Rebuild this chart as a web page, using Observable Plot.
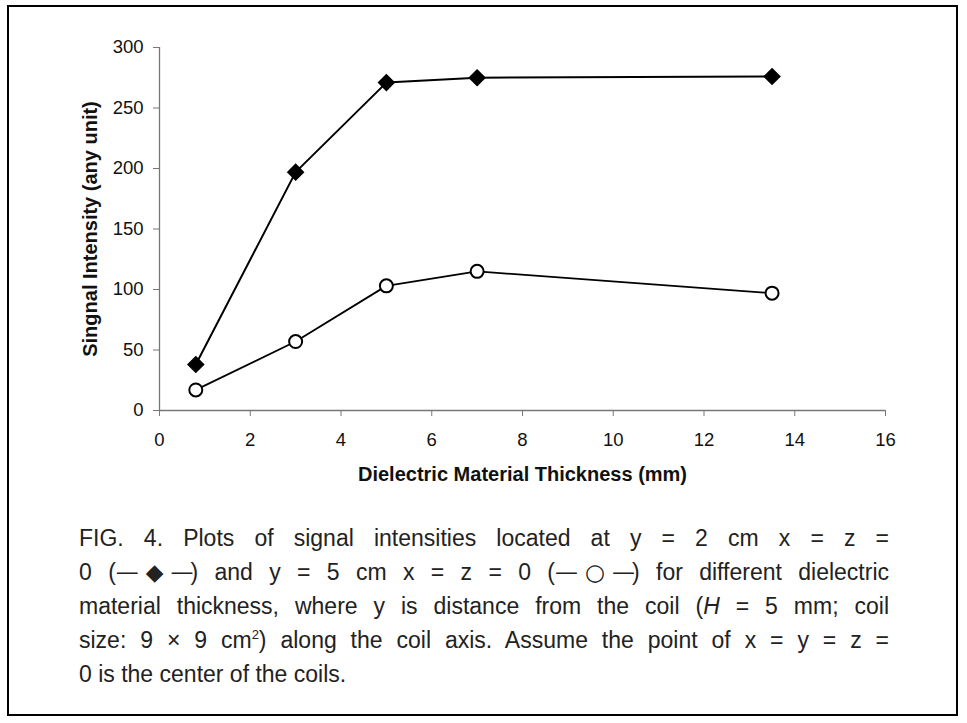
<!DOCTYPE html>
<html>
<head>
<meta charset="utf-8">
<script src="https://cdn.jsdelivr.net/npm/d3@7"></script>
<script src="https://cdn.jsdelivr.net/npm/@observablehq/plot@0.6"></script>
<style>
  html, body { margin: 0; padding: 0; background: #fff; }
  #page { position: relative; width: 967px; height: 723px; overflow: hidden; }
  #frame { position: absolute; left: 7px; top: 5px; width: 947px; height: 707px; border: 2.5px solid #000; box-sizing: content-box; }
  #chart { position: absolute; left: 0; top: 0; }
  #caption { position: absolute; left: 79px; top: 521px; width: 810px; font-family: "Liberation Sans", Arial, sans-serif; font-size: 23px; line-height: 34px; color: #222; }
  #caption .ln { text-align: justify; text-align-last: justify; white-space: nowrap; }
  #caption .ln.last { text-align-last: left; }
  .sym { font-family: "DejaVu Sans", sans-serif; letter-spacing: -3px; }
</style>
</head>
<body>
<div id="page">
  <div id="frame"></div>
  <div id="chart"></div>
  <div id="caption">
    <div class="ln">FIG. 4. Plots of signal intensities located at y = 2 cm x = z =</div>
    <div class="ln">0 (<span class="sym">—◆—</span>) and y = 5 cm x = z = 0 (<span class="sym">—○—</span>) for different dielectric</div>
    <div class="ln">material thickness, where y is distance from the coil (<i>H</i> = 5 mm; coil</div>
    <div class="ln">size: 9 × 9 cm<sup style="font-size:13px;line-height:0">2</sup>) along the coil axis. Assume the point of x = y = z =</div>
    <div class="ln last">0 is the center of the coils.</div>
  </div>
</div>
<script>
const thickness = [0.8, 3, 5, 7, 13.5];
const signalY2 = [38, 197, 271, 275, 276];   // y = 2 cm, x = z = 0 (filled diamonds)
const signalY5 = [17, 57, 103, 115, 97];     // y = 5 cm, x = z = 0 (open circles)
const xTicks = [0, 2, 4, 6, 8, 10, 12, 14, 16];
const yTicks = [0, 50, 100, 150, 200, 250, 300];

const s1 = thickness.map((t, i) => ({x: t, y: signalY2[i]}));
const s2 = thickness.map((t, i) => ({x: t, y: signalY5[i]}));

const chart = Plot.plot({
  width: 967,
  height: 500,
  marginLeft: 159,
  marginRight: 82,
  marginTop: 47,
  marginBottom: 90,
  style: {fontFamily: '"Liberation Sans", Arial, sans-serif', fontSize: "18px", color: "#111", background: "transparent"},
  x: {domain: [0, 16], label: null},
  y: {domain: [0, 300], label: null},
  marks: [
    Plot.ruleX([0], {stroke: "#777", strokeWidth: 1.3}),
    Plot.ruleY([0], {stroke: "#777", strokeWidth: 1.3}),
    Plot.axisX({ticks: xTicks, tickSize: 6, tickPadding: 16, stroke: "#777", fill: "#111", fontSize: 18.5, label: null}),
    Plot.axisY({ticks: yTicks, tickSize: 6, tickPadding: 10, stroke: "#777", fill: "#111", fontSize: 18.5, label: null}),
    Plot.line(s1, {x: "x", y: "y", stroke: "#000", strokeWidth: 2}),
    Plot.line(s2, {x: "x", y: "y", stroke: "#000", strokeWidth: 1.8}),
    Plot.dot(s1, {x: "x", y: "y", symbol: "diamond2", r: 7, fill: "#000", stroke: "#000"}),
    Plot.dot(s2, {x: "x", y: "y", symbol: "circle", r: 6.5, fill: "#fff", stroke: "#000", strokeWidth: 2}),
    Plot.text(["Dielectric Material Thickness (mm)"], {frameAnchor: "bottom", dy: 70, fontWeight: "bold", fontSize: 20, fill: "#111"}),
    Plot.text(["Singnal Intensity (any unit)"], {frameAnchor: "left", textAnchor: "middle", dx: -69, rotate: -90, fontWeight: "bold", fontSize: 20, fill: "#111"})
  ]
});
document.getElementById("chart").appendChild(chart);
</script>
</body>
</html>
